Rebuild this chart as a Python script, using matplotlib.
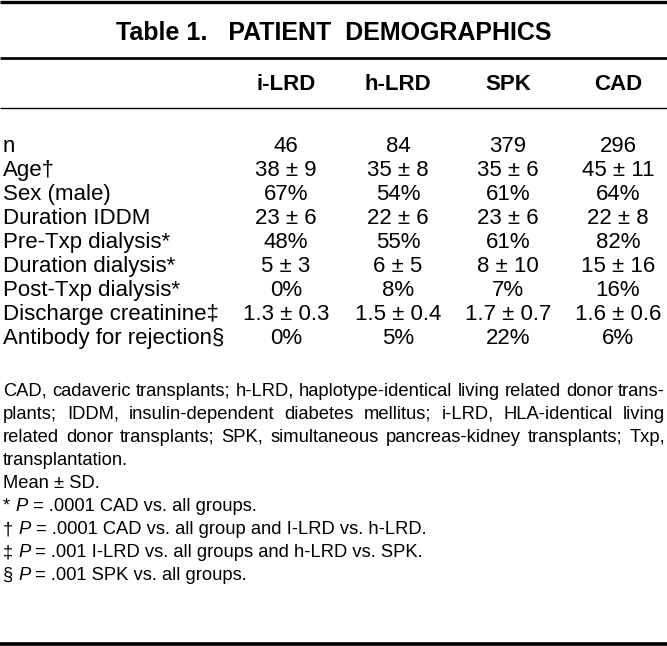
import matplotlib
matplotlib.use('Agg')
import matplotlib.pyplot as plt

plt.rcParams['font.family'] = ['Liberation Sans', 'DejaVu Sans']

W, H = 667, 646

title = 'Table 1.   PATIENT  DEMOGRAPHICS'
groups = ['i-LRD', 'h-LRD', 'SPK', 'CAD']
row_labels = ['n', 'Age\u2020', 'Sex (male)', 'Duration IDDM', 'Pre-Txp dialysis*',
              'Duration dialysis*', 'Post-Txp dialysis*', 'Discharge creatinine\u2021',
              'Antibody for rejection\u00a7']
i_lrd = ['46', '38 \u00b1 9', '67%', '23 \u00b1 6', '48%', '5 \u00b1 3', '0%', '1.3 \u00b1 0.3', '0%']
h_lrd = ['84', '35 \u00b1 8', '54%', '22 \u00b1 6', '55%', '6 \u00b1 5', '8%', '1.5 \u00b1 0.4', '5%']
spk = ['379', '35 \u00b1 6', '61%', '23 \u00b1 6', '61%', '8 \u00b1 10', '7%', '1.7 \u00b1 0.7', '22%']
cad = ['296', '45 \u00b1 11', '64%', '22 \u00b1 8', '82%', '15 \u00b1 16', '16%', '1.6 \u00b1 0.6', '6%']

abbrev_lines = ['CAD, cadaveric transplants; h-LRD, haplotype-identical living related donor trans-',
                'plants; IDDM, insulin-dependent diabetes mellitus; i-LRD, HLA-identical living',
                'related donor transplants; SPK, simultaneous pancreas-kidney transplants; Txp,',
                'transplantation.']
notes = [[('Mean \u00b1 SD.', 'normal')],
         [('* ', 'normal'), ('P', 'italic'), (' = .0001 CAD vs. all groups.', 'normal')],
         [('\u2020 ', 'normal'), ('P', 'italic'), (' = .0001 CAD vs. all group and I-LRD vs. h-LRD.', 'normal')],
         [('\u2021 ', 'normal'), ('P', 'italic'), (' = .001 I-LRD vs. all groups and h-LRD vs. SPK.', 'normal')],
         [('\u00a7 ', 'normal'), ('P', 'italic'), (' = .001 SPK vs. all groups.', 'normal')]]

fig = plt.figure(figsize=(W / 100, H / 100), dpi=100)
ax = fig.add_axes([0, 0, 1, 1])
ax.set_xlim(0, W)
ax.set_ylim(H, 0)
ax.axis('off')
r = fig.canvas.get_renderer()

def width_of(t):
    return t.get_window_extent(renderer=r).width

# rules
for y, lw in [(1.5, 3.2), (58, 2.6), (107.5, 1.3), (643.5, 3.5)]:
    ax.plot([0, W], [y, y], color='black', lw=lw * 0.75, solid_capstyle='butt')

ax.text(W / 2, 33, title, ha='center', va='center', fontsize=18, fontweight='bold')

col_x = [286, 398, 508, 618]
for x, g in zip(col_x, groups):
    ax.text(x, 85, g, ha='center', va='center', fontsize=16, fontweight='bold')

body = 16
row_y0, row_dy = 146.5, 24
for i, lab in enumerate(row_labels):
    y = row_y0 + i * row_dy
    ax.text(3, y, lab, ha='left', va='center', fontsize=body)
    for x, col in zip(col_x, [i_lrd, h_lrd, spk, cad]):
        ax.text(x, y, col[i], ha='center', va='center', fontsize=body)

# footnotes, first three lines justified
fn = 13.2
fy0, fdy = 391, 23.1
left, right = 3, 665
for k, line in enumerate(abbrev_lines):
    y = fy0 + k * fdy
    if k == len(abbrev_lines) - 1:
        ax.text(left, y, line, ha='left', va='center', fontsize=fn)
        continue
    words = line.split(' ')
    arts = [ax.text(0, y, w, ha='left', va='center', fontsize=fn) for w in words]
    ws = [width_of(a) for a in arts]
    gap = (right - left - sum(ws)) / (len(words) - 1)
    x = left
    for a, w in zip(arts, ws):
        a.set_x(x)
        x += w + gap

for k, runs in enumerate(notes):
    y = fy0 + (len(abbrev_lines) + k) * fdy
    x = left
    for s, style in runs:
        t = ax.text(x, y, s, ha='left', va='center', fontsize=fn, fontstyle=style)
        x += width_of(t)

fig.savefig('out.png', dpi=100)
